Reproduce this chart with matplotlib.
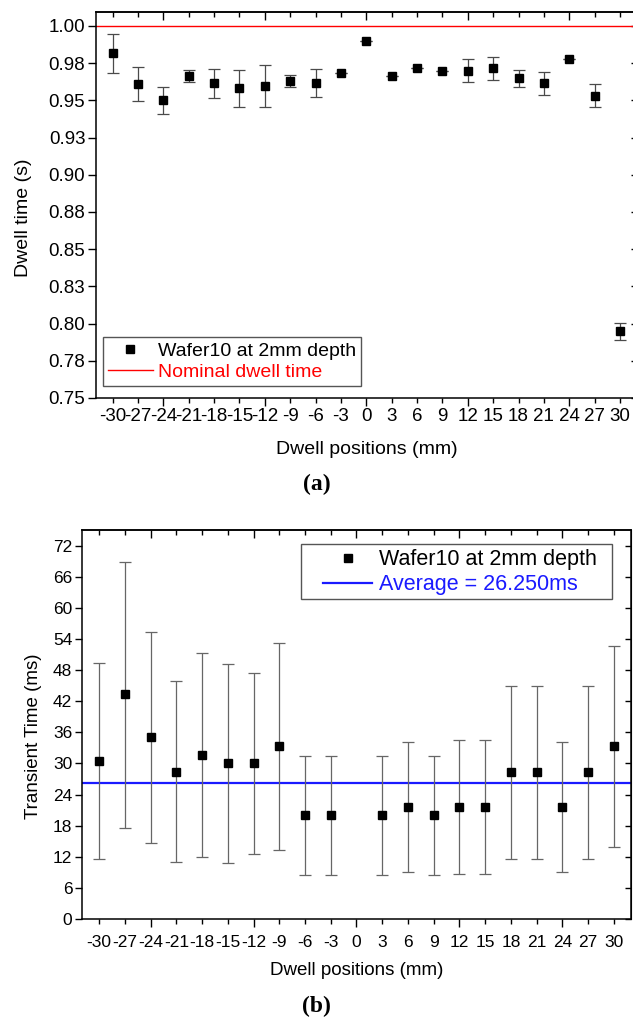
import numpy as np
import matplotlib
matplotlib.use("Agg")
import matplotlib.pyplot as plt
from matplotlib.patches import Rectangle

plt.rcParams['font.family'] = ['Liberation Sans', 'DejaVu Sans']
plt.rcParams['axes.unicode_minus'] = False

# dwell positions along the wafer (mm)
positions = [-30, -27, -24, -21, -18, -15, -12, -9, -6, -3, 0, 3, 6, 9, 12, 15, 18, 21, 24, 27, 30]

# (a) measured dwell time (s) with error limits
dwell = [0.9817, 0.9608, 0.9500, 0.9664, 0.9615, 0.9581, 0.9597, 0.9630, 0.9615, 0.9682, 0.9899,
         0.9664, 0.9716, 0.9697, 0.9697, 0.9716, 0.9648, 0.9617, 0.9780, 0.9531, 0.7950]
dwell_hi = [0.9944, 0.9727, 0.9592, 0.9704, 0.9709, 0.9704, 0.9740, 0.9671, 0.9709, 0.9682, 0.9899,
            0.9664, 0.9716, 0.9697, 0.9776, 0.9792, 0.9707, 0.9693, 0.9780, 0.9608, 0.8006]
dwell_lo = [0.9686, 0.9494, 0.9406, 0.9626, 0.9516, 0.9456, 0.9456, 0.9590, 0.9521, 0.9682, 0.9899,
            0.9664, 0.9716, 0.9697, 0.9622, 0.9638, 0.9588, 0.9538, 0.9780, 0.9456, 0.7890]
nominal = 1.0
dwell_ticks = [0.75, 0.775, 0.80, 0.825, 0.85, 0.875, 0.90, 0.925, 0.95, 0.975, 1.00]
dwell_ticklabels = ['0.75', '0.78', '0.80', '0.83', '0.85', '0.88', '0.90', '0.93', '0.95', '0.98', '1.00']

# (b) transient time (ms), no value at 0 mm
trans_pos = [-30, -27, -24, -21, -18, -15, -12, -9, -6, -3, 3, 6, 9, 12, 15, 18, 21, 24, 27, 30]
trans = [30.4, 43.3, 35.0, 28.4, 31.6, 30.0, 30.0, 33.3, 20.0, 20.0,
         20.0, 21.6, 20.0, 21.6, 21.6, 28.3, 28.3, 21.6, 28.3, 33.3]
trans_hi = [49.3, 68.9, 55.3, 45.8, 51.3, 49.1, 47.4, 53.3, 31.4, 31.4,
            31.4, 34.2, 31.4, 34.6, 34.6, 44.9, 45.0, 34.2, 45.0, 52.7]
trans_lo = [11.6, 17.6, 14.6, 11.0, 11.9, 10.8, 12.5, 13.3, 8.4, 8.4,
            8.4, 9.0, 8.4, 8.6, 8.6, 11.6, 11.5, 9.0, 11.5, 13.8]
average = 26.250
trans_ticks = np.arange(0, 73, 6)


def style_x(ax, fs, pad):
    ax.set_xlim(-32, 32)
    ax.set_xticks(positions)
    ax.tick_params(axis='x', direction='out', length=3.5, width=1, labelsize=fs, pad=pad)
    for t, p in zip(ax.xaxis.get_major_ticks(), positions):
        if p % 12 == 0:
            t.tick1line.set_markersize(5.5)
    top = ax.secondary_xaxis('top')
    top.set_xticks(positions)
    top.set_xticklabels([])
    top.tick_params(direction='in', length=3.5, width=1)
    for t, p in zip(top.xaxis.get_major_ticks(), positions):
        if p % 12 == 0:
            t.tick1line.set_markersize(5.5)
            t.tick2line.set_markersize(5.5)
    for s in ax.spines.values():
        s.set_linewidth(1.1)
    top.spines['top'].set_linewidth(1.1)


fig = plt.figure(figsize=(6.33, 10.26), dpi=100)

# ---- (a) dwell time
ax1 = fig.add_axes([0.1512, 0.6121, 0.855, 0.3762])
d = np.array(dwell)
ax1.errorbar(positions, d, yerr=[d - np.array(dwell_lo), np.array(dwell_hi) - d], fmt='none',
             ecolor='#4a4a4a', elinewidth=0.9, capsize=4, capthick=0.9, zorder=2)
ax1.plot(positions, dwell, 's', color='black', markersize=6, label='Wafer10 at 2mm depth', zorder=3)
ax1.axhline(nominal, color='red', linewidth=1, label='Nominal dwell time', zorder=1)
ax1.set_ylim(0.75, 1.0094)
ax1.set_yticks(dwell_ticks)
ax1.set_yticklabels(dwell_ticklabels)
ax1.tick_params(axis='y', direction='out', length=5.5, width=1, labelsize=13.5, pad=2)
r1 = ax1.secondary_yaxis('right')
r1.set_yticks(dwell_ticks)
r1.set_yticklabels([])
r1.tick_params(direction='in', length=4, width=1)
style_x(ax1, 13.5, 3.5)
ax1.set_xlabel('Dwell positions (mm)', fontsize=14, labelpad=12)
ax1.set_ylabel('Dwell time (s)', fontsize=14)
ax1.yaxis.set_label_coords(-0.1177, 0.466)
leg1 = ax1.legend(loc='lower left', bbox_to_anchor=(0.0135, 0.031), borderaxespad=0,
                  fontsize=14, handlelength=2.3, handletextpad=0.3, numpoints=1,
                  fancybox=False, edgecolor='#555555', framealpha=1,
                  borderpad=0.25, labelspacing=0.2)
leg1.get_frame().set_linewidth(1)
for txt, c in zip(leg1.get_texts(), ['black', 'red']):
    txt.set_color(c)

fig.text(0.5, 1 - 484 / 1026, '(a)', ha='center', va='center', fontsize=17,
         family='Liberation Serif', fontweight='bold')

# ---- (b) transient time
ax2 = fig.add_axes([0.1295, 0.1043, 0.8673, 0.3791])
t = np.array(trans)
ax2.errorbar(trans_pos, t, yerr=[t - np.array(trans_lo), np.array(trans_hi) - t], fmt='none',
             ecolor='#666666', elinewidth=0.9, capsize=4, capthick=0.9, zorder=2)
ax2.plot(trans_pos, trans, 's', color='black', markersize=6, label='Wafer10 at 2mm depth', zorder=3)
ax2.axhline(average, color='#1a1aff', linewidth=1.6, label='Average = 26.250ms', zorder=1)
ax2.set_ylim(0, 75)
ax2.set_yticks(trans_ticks)
ax2.tick_params(axis='y', direction='out', length=5, width=1, labelsize=12.5, pad=2)
r2 = ax2.secondary_yaxis('right')
r2.set_yticks(trans_ticks)
r2.set_yticklabels([])
r2.tick_params(direction='in', length=4, width=1)
style_x(ax2, 12.5, 8)
ax2.set_xlabel('Dwell positions (mm)', fontsize=13.5, labelpad=9)
ax2.set_ylabel('Transient Time (ms)', fontsize=13.5)
ax2.yaxis.set_label_coords(-0.072, 0.4687)
# legend without its own frame; box drawn separately for wider left margin
leg2 = ax2.legend(loc='upper left', bbox_to_anchor=(0.439, 0.951), borderaxespad=0,
                  fontsize=15.5, handlelength=2.3, handletextpad=0.3, numpoints=1,
                  frameon=False, borderpad=0, labelspacing=0.2)
for txt, c in zip(leg2.get_texts(), ['black', '#1a1aff']):
    txt.set_color(c)
ax2.add_patch(Rectangle((0.3989, 0.8226), 0.9654 - 0.3989, 0.964 - 0.8226, transform=ax2.transAxes,
                        facecolor='none', edgecolor='#555555', linewidth=1, zorder=4))

fig.text(0.5, 1 - 1006 / 1026, '(b)', ha='center', va='center', fontsize=17,
         family='Liberation Serif', fontweight='bold')

fig.savefig('out.png', dpi=100)
